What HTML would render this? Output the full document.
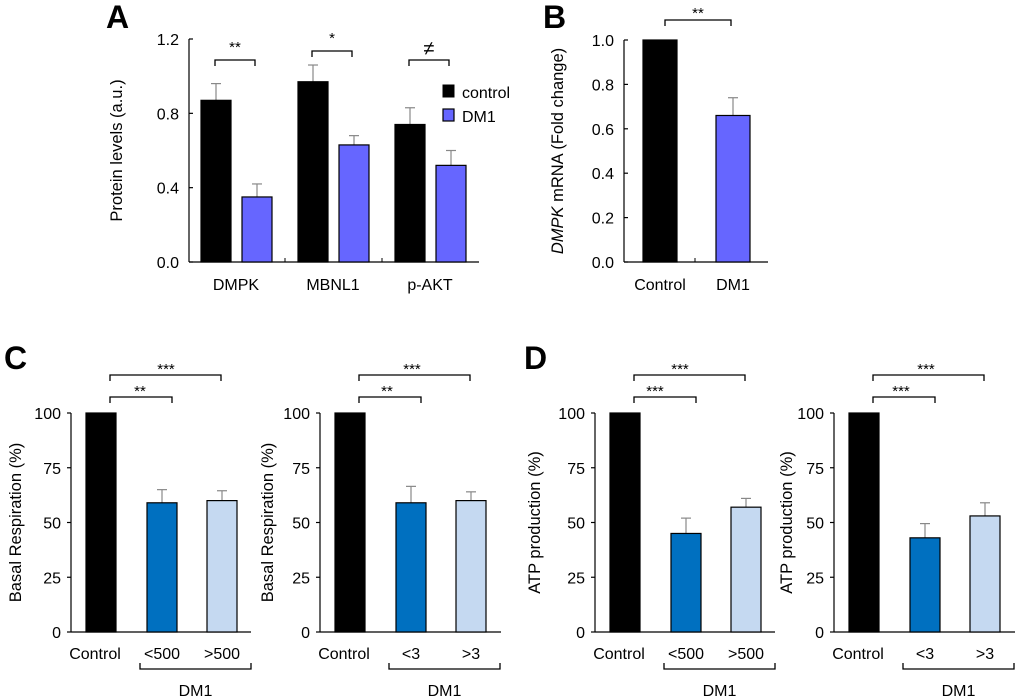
<!DOCTYPE html>
<html><head><meta charset="utf-8"><style>
html,body{margin:0;padding:0;background:#fff;}
svg{display:block;font-family:"Liberation Sans",Arial,sans-serif;}
</style></head><body>
<svg id="fig" width="1020" height="699" viewBox="0 0 1020 699" xmlns="http://www.w3.org/2000/svg">
<text x="106" y="28" font-size="32" font-weight="bold">A</text>
<text x="543" y="28" font-size="32" font-weight="bold">B</text>
<text x="4" y="369" font-size="32" font-weight="bold">C</text>
<text x="524" y="369" font-size="32" font-weight="bold">D</text>
</svg>
<script>
// Panel A data
const aCategories = ["DMPK","MBNL1","p-AKT"];
const aControl = [0.87,0.97,0.74];
const aControlErr = [0.09,0.09,0.09];
const aDM1 = [0.35,0.63,0.52];
const aDM1Err = [0.07,0.05,0.08];
const aTicks = ["0.0","0.4","0.8","1.2"];
const aSig = ["**","*","≠"];
// Panel B data
const bCategories = ["Control","DM1"];
const bValues = [1.0,0.66];
const bErr = [0,0.08];
const bTicks = ["0.0","0.2","0.4","0.6","0.8","1.0"];
// Panel C data
const cCategories1 = ["Control","<500",">500"];
const cValues1 = [100,59,60];
const cErr1 = [0,6,4.5];
const cCategories2 = ["Control","<3",">3"];
const cValues2 = [100,59,60];
const cErr2 = [0,7.5,4];
// Panel D data
const dValues1 = [100,45,57];
const dErr1 = [0,7,4];
const dValues2 = [100,43,53];
const dErr2 = [0,6.5,6];
const pctTicks = ["0","25","50","75","100"];

const NS="http://www.w3.org/2000/svg";
const svg=document.getElementById('fig');
const TICK=16, TITLE=16.5, XL=16;
function mk(tag,attrs,parent){const e=document.createElementNS(NS,tag);for(const k in attrs)e.setAttribute(k,attrs[k]);(parent||svg).appendChild(e);return e;}
function txt(x,y,s,size,anchor,parent){const t=mk('text',{x:x,y:y,'font-size':size,'text-anchor':anchor||'middle'},parent);t.textContent=s;return t;}

function yAxis(g,ax,y0,y1,vmax,ticks,title,titleX,tickLeft,italicFirst){
  const sc=v=>y0-(v/vmax)*(y0-y1);
  const l=mk('line',{x1:ax,y1:y0,x2:ax,y2:y1,stroke:'#000','stroke-width':1.2},g);
  
  
  ticks.forEach(tv=>{const v=parseFloat(tv);const y=sc(v);
    mk('line',{x1:ax,y1:y,x2:tickLeft?ax-4:ax+4,y2:y,stroke:'#000','stroke-width':1.2},g);
    const t=txt(ax-10,y+6,tv,TICK,'end',g);
    
    
  });
  const tt=mk('text',{x:0,y:0,'font-size':TITLE,'text-anchor':'middle',transform:`translate(${titleX},${(y0+y1)/2}) rotate(-90)`},g);
  if(italicFirst){const s1=mk('tspan',{'font-style':'italic'},tt);s1.textContent=italicFirst;const s2=mk('tspan',{},tt);s2.textContent=title;}
  else tt.textContent=title;
  
  
  return sc;
}
function bar(g,x,w,sc,v,err,fill,name){
  const y=sc(v);const y0=sc(0);
  if(err>0){const ye=sc(v+err);
    mk('line',{x1:x+w/2,y1:y,x2:x+w/2,y2:ye,stroke:'#888','stroke-width':1.2},g);
    mk('line',{x1:x+w/2-5,y1:ye,x2:x+w/2+5,y2:ye,stroke:'#888','stroke-width':1.2},g);}
  const r=mk('rect',{x:x,y:y,width:w,height:y0-y,fill:fill,stroke:'#000','stroke-width':1.2},g);
  
  
}
function bracket(g,x1,x2,y,down){
  const d=down?6:-6;
  mk('path',{d:`M${x1},${y+d} L${x1},${y} L${x2},${y} L${x2},${y+d}`,fill:'none',stroke:'#000','stroke-width':1.3},g);
}

// Panel A
(function(){
  const g=mk('g',{});
  
  
  const sc=yAxis(g,189,262,39,1.2,aTicks,'Protein levels (a.u.)',122,false);
  mk('line',{x1:189,y1:262,x2:479,y2:262,stroke:'#000','stroke-width':1.2},g);
  [285,382].forEach(x=>mk('line',{x1:x,y1:262,x2:x,y2:258,stroke:'#000'},g));
  const groupX=[201,298,395];
  const bracketY=[60,51,60];
  aCategories.forEach((c,i)=>{
    const x=groupX[i];
    bar(g,x,30,sc,aControl[i],aControlErr[i],'#000','bar-control-'+c);
    bar(g,x+41,30,sc,aDM1[i],aDM1Err[i],'#6666ff','bar-dm1-'+c);
    const t=txt(x+35,290,c,XL,'middle',g);
    
    
    bracket(g,x+14,x+54,bracketY[i],true);
    const st=txt(x+34,bracketY[i]-(i===2?5:8),aSig[i],i===2?20:15,'middle',g);
    
    
  });
  const l1=mk('rect',{x:443,y:85,width:11,height:12,fill:'#000',stroke:'#000'},g);
  
  
  const lt1=txt(462,98,'control',XL,'start',g);
  
  
  const l2=mk('rect',{x:443,y:109,width:11,height:12,fill:'#6666ff',stroke:'#000','stroke-width':1.2},g);
  
  
  const lt2=txt(462,122,'DM1',XL,'start',g);
  
  
})();

// Panel B
(function(){
  const g=mk('g',{});
  
  
  const sc=yAxis(g,624,262,40,1.0,bTicks,' mRNA (Fold change)',563,false,'DMPK');
  mk('line',{x1:624,y1:262,x2:768,y2:262,stroke:'#000','stroke-width':1.2},g);
  mk('line',{x1:695,y1:262,x2:695,y2:258,stroke:'#000'},g);
  const xs=[643,716];const fills=['#000','#6666ff'];
  bCategories.forEach((c,i)=>{
    bar(g,xs[i],34,sc,bValues[i],bErr[i],fills[i],'bar-'+c.toLowerCase());
    const t=txt(xs[i]+17,290,c,XL,'middle',g);
    
    
  });
  bracket(g,665,731,20,true);
  const st=txt(698,18,'**',15,'middle',g);
  
  
})();

// Panels C & D
function pctChart(name,ax,cats,vals,errs,title,titleX,axEnd){
  const g=mk('g',{});
  
  
  const sc=yAxis(g,ax,632,413,100,pctTicks,title,titleX,true);
  mk('line',{x1:ax,y1:632,x2:axEnd,y2:632,stroke:'#000','stroke-width':1.2},g);
  const fills=['#000','#0070c0','#c5d9f1'];
  const xs=[ax+15,ax+76,ax+136];
  cats.forEach((c,i)=>{
    bar(g,xs[i],30,sc,vals[i],errs[i],fills[i],'bar-'+i);
    const t=txt(xs[i]+15+(i===0?-6:0),659,c,XL,'middle',g);
    
    
  });
  bracket(g,xs[0]+24,xs[1]+25,397,true);
  bracket(g,xs[0]+24,xs[2]+14,375,true);
  bracket(g,xs[1]-7,xs[2]+44,669,false);
  const d=txt((xs[1]+xs[2]+37)/2,696,'DM1',XL,'middle',g);
  
  
  return {g,xs};
}
function stars(g,x,y,s){const t=txt(x,y,s,15,'middle',g);
  
  }
let p;
p=pctChart('panel-c-left-chart',71,cCategories1,cValues1,cErr1,'Basal Respiration (%)',21,251);
stars(p.g,140,396,'**');stars(p.g,166,374,'***');
p=pctChart('panel-c-right-chart',320,cCategories2,cValues2,cErr2,'Basal Respiration (%)',273,501);
stars(p.g,387,396,'**');stars(p.g,412,374,'***');
p=pctChart('panel-d-left-chart',595,cCategories1,dValues1,dErr1,'ATP production (%)',540,775);
stars(p.g,655,396,'***');stars(p.g,680,374,'***');
p=pctChart('panel-d-right-chart',834,cCategories2,dValues2,dErr2,'ATP production  (%)',792,1015);
stars(p.g,901,396,'***');stars(p.g,926,374,'***');
</script>
</body></html>
